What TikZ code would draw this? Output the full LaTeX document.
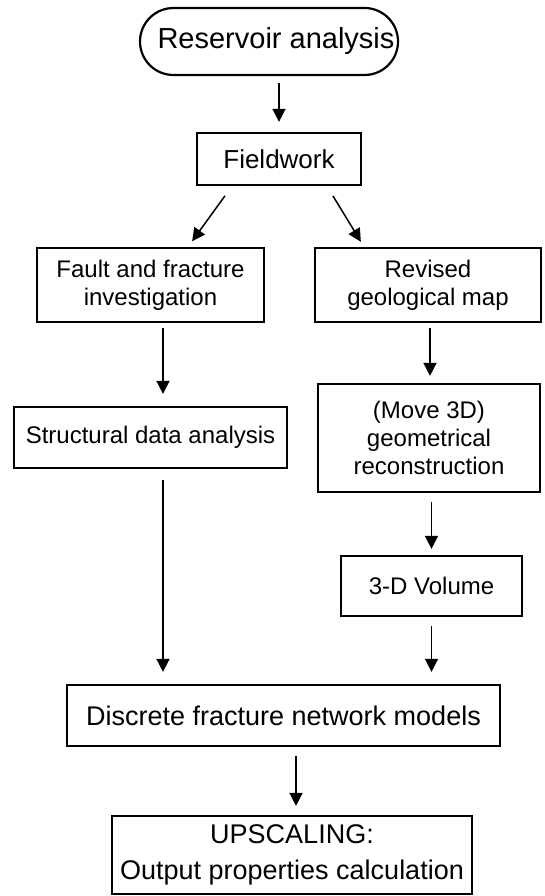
\documentclass[tikz,border=0pt]{standalone}
\usepackage{fontspec}
\setmainfont{Liberation Sans}
\usetikzlibrary{arrows.meta,positioning}

\begin{document}
\begin{tikzpicture}[
    x=1pt, y=1pt,
    box/.style={rectangle, draw, line width=2.2pt, align=center, inner sep=0pt, font=\fontsize{24}{28}\selectfont},
    arrow/.style={-{Triangle[length=13pt,width=13pt]}, line width=1.5pt}
]
    \useasboundingbox (0,0) rectangle (544,-896);

    % Nodes
    \node[box, rounded corners=33.5pt, minimum width=258pt, minimum height=67pt, font=\fontsize{29}{34}\selectfont] (reservoir) at (269,-41.5) {\hspace*{14pt}Reservoir analysis};
    \node[box, minimum width=164pt, minimum height=52pt, font=\fontsize{26}{30}\selectfont] (fieldwork) at (279,-159) {Fieldwork};
    \node[box, minimum width=227pt, minimum height=74pt] (fault) at (150.5,-285) {Fault and fracture\\investigation};
    \node[box, minimum width=226pt, minimum height=74pt] (revised) at (428,-285) {Revised\\geological map};
    \node[box, minimum width=273pt, minimum height=61pt] (structural) at (150.5,-437.5) {Structural data analysis};
    \node[box, minimum width=222pt, minimum height=108pt] (move) at (429,-438) {(Move 3D)\\geometrical\\reconstruction};
    \node[box, minimum width=181pt, minimum height=60pt] (volume) at (431.5,-586) {3-D Volume};
    \node[box, minimum width=433pt, minimum height=61pt, font=\fontsize{27}{32}\selectfont] (dfn) at (283.5,-715.5) {Discrete fracture network models};
    \node[box, minimum width=360pt, minimum height=78pt, font=\fontsize{27}{36}\selectfont] (upscaling) at (292,-855) {UPSCALING:\\Output properties calculation};

    % Arrows
    \draw[arrow, shorten <=7pt, shorten >=10pt] (reservoir.south -| fieldwork.north) -- (fieldwork.north);
    \draw[arrow, shorten <=12pt, shorten >=7pt] ([xshift=-47pt]fieldwork.south) -- ([xshift=37.5pt]fault.north);
    \draw[arrow, shorten <=11.5pt, shorten >=6pt] ([xshift=48pt]fieldwork.south) -- ([xshift=-64pt]revised.north);
    \draw[arrow, shorten <=5pt, shorten >=12pt] ([xshift=12.5pt]fault.south) -- ([xshift=12.5pt]fault.south |- structural.north);
    \draw[arrow, shorten <=5pt, shorten >=7pt] ([xshift=2pt]revised.south) -- ([xshift=2pt]revised.south |- move.north);
    \draw[arrow, shorten <=11pt, shorten >=12pt] ([xshift=12.5pt]structural.south) -- ([xshift=12.5pt]structural.south |- dfn.north);
    \draw[arrow, shorten <=9pt, shorten >=6pt] (move.south -| volume.north) -- (volume.north);
    \draw[arrow, shorten <=9pt, shorten >=12pt] (volume.south) -- (volume.south |- dfn.north);
    \draw[arrow, shorten <=9pt, shorten >=9pt] ([xshift=12.5pt]dfn.south) -- ([xshift=12.5pt]dfn.south |- upscaling.north);
\end{tikzpicture}
\end{document}
